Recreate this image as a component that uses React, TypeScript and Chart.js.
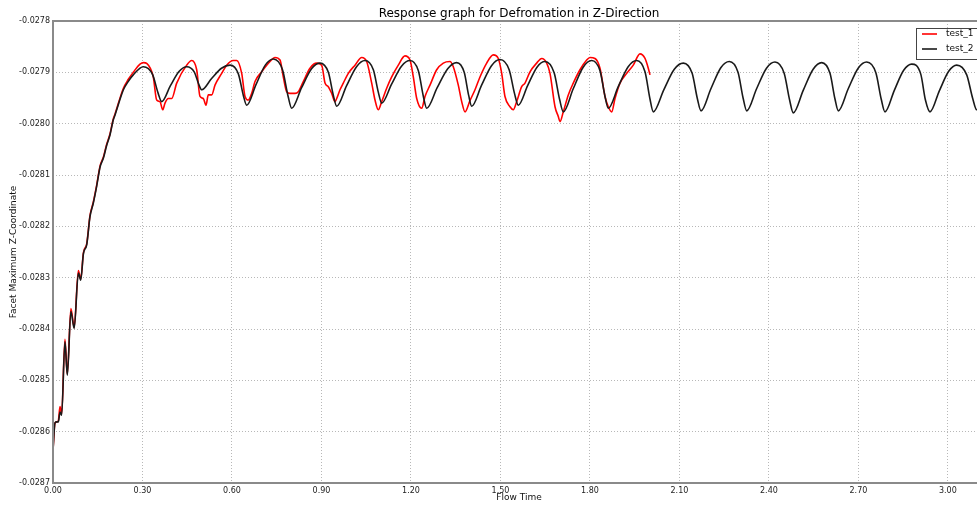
import React, { useEffect, useRef } from "react";
import { Chart, registerables } from "chart.js";

Chart.register(...registerables);

const TITLE = "Response graph for Defromation in Z-Direction";
const X_LABEL = "Flow Time";
const Y_LABEL = "Facet Maximum Z-Coordinate";
const SERIES_NAMES = ["test_1", "test_2"];

const xTicks = [0, 0.3, 0.6, 0.9, 1.2, 1.5, 1.8, 2.1, 2.4, 2.7, 3.0];
const yTicks = [-0.0287, -0.0286, -0.0285, -0.0284, -0.0283, -0.0282, -0.0281, -0.028, -0.0279, -0.0278];
const X_MIN = 0;
const X_MAX = 3.1244;
const Y_MIN = -0.0287;
const Y_MAX = -0.0278;

// test_2 (black)
const test2Time = [
  0.0, 0.0067, 0.0124, 0.0178, 0.0235, 0.029, 0.04, 0.048, 0.06, 0.071,
  0.085, 0.093, 0.102, 0.113, 0.124, 0.135, 0.146, 0.158, 0.169, 0.18,
  0.191, 0.202, 0.208, 0.236, 0.252, 0.269,
  0.3027, 0.3336, 0.3521, 0.3644, 0.3937, 0.4231, 0.4482, 0.4734, 0.4884, 0.4985,
  0.5317, 0.5649, 0.5934, 0.6214, 0.6381, 0.6493, 0.6805, 0.7117, 0.7385, 0.7694,
  0.7879, 0.8002, 0.8334, 0.8666, 0.8951, 0.9231, 0.9399, 0.9511, 0.9843, 1.0175,
  1.0459, 1.0739, 1.0907, 1.1019, 1.1351, 1.1683, 1.1968, 1.2248, 1.2416, 1.2528,
  1.288, 1.3232, 1.3533, 1.3785, 1.3935, 1.4036, 1.4368, 1.47, 1.4985, 1.5292,
  1.5475, 1.5598, 1.5911, 1.6225, 1.6493, 1.68, 1.6984, 1.7107, 1.744, 1.7773,
  1.8059, 1.8338, 1.8505, 1.8616, 1.8949, 1.9282, 1.9568, 1.9846, 2.0013, 2.0124,
  2.0476, 2.0828, 2.113, 2.1427, 2.1604, 2.1723, 2.2055, 2.2387, 2.2672, 2.2964,
  2.3138, 2.3255, 2.3587, 2.3919, 2.4204, 2.4511, 2.4694, 2.4817, 2.515, 2.5483,
  2.5769, 2.6048, 2.6215, 2.6326, 2.6659, 2.6992, 2.7278, 2.7585, 2.7768, 2.7891,
  2.8204, 2.8518, 2.8786, 2.9093, 2.9247, 2.94, 2.9713, 3.0027, 3.0295, 3.0631,
  3.0832, 3.0966, 3.1244,
];
const test2Value = [
  -0.028636, -0.028583, -0.028581, -0.028581, -0.028562, -0.028568, -0.028425, -0.02849, -0.028366, -0.028399,
  -0.028291, -0.028305, -0.028253, -0.028236, -0.028181, -0.028155, -0.028123, -0.028084, -0.028067, -0.028042,
  -0.028022, -0.027993, -0.027983, -0.027934, -0.027918, -0.027905,
  -0.027889, -0.027904, -0.02794, -0.027957, -0.027926, -0.027898, -0.027889, -0.027899, -0.027923, -0.027934,
  -0.027912, -0.027892, -0.027886, -0.027903, -0.027945, -0.027964, -0.027924, -0.027886, -0.027874, -0.027895,
  -0.027946, -0.02797, -0.02793, -0.027893, -0.027882, -0.0279, -0.027945, -0.027966, -0.027926, -0.027889,
  -0.027877, -0.027895, -0.027939, -0.02796, -0.027923, -0.027888, -0.027877, -0.027897, -0.027947, -0.02797,
  -0.02793, -0.027893, -0.027881, -0.0279, -0.027945, -0.027966, -0.027925, -0.027887, -0.027875, -0.027895,
  -0.027942, -0.027964, -0.027926, -0.02789, -0.027879, -0.027901, -0.027953, -0.027977, -0.027932, -0.02789,
  -0.027877, -0.027897, -0.027947, -0.02797, -0.027928, -0.027889, -0.027877, -0.027899, -0.027952, -0.027977,
  -0.027934, -0.027894, -0.027882, -0.027902, -0.027952, -0.027975, -0.027932, -0.027891, -0.027879, -0.0279,
  -0.027951, -0.027975, -0.027932, -0.027892, -0.02788, -0.027902, -0.027954, -0.027979, -0.027935, -0.027894,
  -0.027881, -0.027902, -0.027952, -0.027975, -0.027932, -0.027892, -0.02788, -0.027901, -0.027953, -0.027977,
  -0.027935, -0.027896, -0.027884, -0.027904, -0.027954, -0.027977, -0.027936, -0.027898, -0.027886, -0.027905,
  -0.027951, -0.027973, -0.027946,
];

// test_1 (red)
const test1Time = [
  0.0, 0.0067, 0.0124, 0.0178, 0.0235, 0.029, 0.04, 0.048, 0.06, 0.071,
  0.085, 0.093, 0.102, 0.113, 0.124, 0.135, 0.146, 0.158, 0.169, 0.18,
  0.191, 0.202, 0.208, 0.236, 0.252, 0.269, 0.2917, 0.3035, 0.3151, 0.3362,
  0.3476, 0.3587, 0.3677, 0.3755, 0.3865, 0.3979, 0.4147, 0.4482, 0.465, 0.4817,
  0.4928, 0.5039, 0.5129, 0.5206, 0.532, 0.5431, 0.5655, 0.5823, 0.6044, 0.6158,
  0.6326, 0.6437, 0.6547, 0.6661, 0.6772, 0.6996, 0.7275, 0.7442, 0.761, 0.772,
  0.7834, 0.7945, 0.8113, 0.8223, 0.8391, 0.8615, 0.884, 0.9008, 0.9119, 0.9229,
  0.9343, 0.9454, 0.9511, 0.9621, 0.9732, 0.9899, 1.0124, 1.0349, 1.0516, 1.0684,
  1.0795, 1.0905, 1.1019, 1.1186, 1.1354, 1.1576, 1.18, 1.1968, 1.2079, 1.2193,
  1.236, 1.2471, 1.2638, 1.2863, 1.3084, 1.3309, 1.3419, 1.3587, 1.3701, 1.3812,
  1.3979, 1.4147, 1.4314, 1.4539, 1.476, 1.4928, 1.5042, 1.5152, 1.532, 1.5431,
  1.5545, 1.5712, 1.5823, 1.5991, 1.6215, 1.6383, 1.6551, 1.6661, 1.6829, 1.6939,
  1.6996, 1.7107, 1.7275, 1.7442, 1.7667, 1.7891, 1.8002, 1.817, 1.8337, 1.8505,
  1.8616, 1.873, 1.884, 1.9008, 1.9232, 1.9453, 1.9678, 1.9846, 1.9956, 2.0013,
];
const test1Value = [
  -0.028636, -0.028583, -0.028581, -0.028579, -0.028551, -0.028566, -0.02842, -0.028488, -0.02836, -0.028397,
  -0.028286, -0.028303, -0.028251, -0.028234, -0.028179, -0.028153, -0.028121, -0.028082, -0.028065, -0.02804,
  -0.02802, -0.027991, -0.027981, -0.027931, -0.027914, -0.0279, -0.027884, -0.027881, -0.027883, -0.027909,
  -0.027954, -0.027957, -0.027973, -0.02796, -0.027951, -0.027951, -0.027921, -0.027886, -0.027877, -0.027895,
  -0.027947, -0.027951, -0.027964, -0.027944, -0.027944, -0.027925, -0.027902, -0.027886, -0.027877, -0.027877,
  -0.027902, -0.027947, -0.027954, -0.027941, -0.027918, -0.027899, -0.027879, -0.027871, -0.027876, -0.027909,
  -0.027938, -0.027941, -0.027941, -0.027938, -0.027918, -0.027892, -0.027882, -0.027886, -0.027921, -0.027928,
  -0.027941, -0.027957, -0.027951, -0.027934, -0.027921, -0.027902, -0.027886, -0.027871, -0.027879, -0.027921,
  -0.027954, -0.027973, -0.027957, -0.027931, -0.027909, -0.027886, -0.027868, -0.027876, -0.027909, -0.027951,
  -0.02797, -0.027947, -0.027925, -0.027895, -0.027882, -0.027879, -0.027889, -0.027925, -0.027957, -0.027977,
  -0.027955, -0.027934, -0.027909, -0.027882, -0.027866, -0.027873, -0.027902, -0.027947, -0.027967, -0.027973,
  -0.027957, -0.027928, -0.027921, -0.027899, -0.027882, -0.027873, -0.027882, -0.027902, -0.027967, -0.027986,
  -0.027996, -0.027977, -0.027944, -0.027921, -0.027895, -0.027876, -0.027871, -0.027873, -0.027892, -0.027947,
  -0.027967, -0.027977, -0.027951, -0.027921, -0.027902, -0.027886, -0.027864, -0.027873, -0.027892, -0.027905,
];

const RED = "#ff0000";
const BLACK = "#1a1a1a";
const FONT = "DejaVu Sans";

const decorPlugin = {
  id: "decor",
  afterDatasetsDraw(chart: any) {
    const { ctx, chartArea } = chart;
    const { left, right, top, bottom } = chartArea;
    ctx.save();
    // spines
    ctx.strokeStyle = "#8a8a8a";
    ctx.lineWidth = 2;
    ctx.beginPath();
    ctx.moveTo(left, top);
    ctx.lineTo(right + 2, top);
    ctx.moveTo(left, top - 1);
    ctx.lineTo(left, bottom + 1);
    ctx.moveTo(left, bottom);
    ctx.lineTo(right + 2, bottom);
    ctx.stroke();

    // title
    ctx.fillStyle = "#000";
    ctx.font = `12px "${FONT}"`;
    ctx.textAlign = "center";
    ctx.textBaseline = "middle";
    ctx.fillText(TITLE, (left + right) / 2, 14);

    // axis labels
    ctx.font = `9px "${FONT}"`;
    ctx.fillStyle = "#111";
    ctx.fillText(X_LABEL, (left + right) / 2, 498);
    ctx.save();
    ctx.translate(14, (top + bottom) / 2);
    ctx.rotate(-Math.PI / 2);
    ctx.fillText(Y_LABEL, 0, 0);
    ctx.restore();

    // legend
    const bx = right - 69;
    const by = top + 7;
    ctx.fillStyle = "#fff";
    ctx.fillRect(bx, by, 65, 31);
    ctx.strokeStyle = "#444";
    ctx.lineWidth = 1;
    ctx.strokeRect(bx + 0.5, by + 0.5, 65, 31);
    const colors = [RED, BLACK];
    SERIES_NAMES.forEach((name, i) => {
      const ly = by + 6 + i * 15;
      ctx.strokeStyle = colors[i];
      ctx.lineWidth = 1.6;
      ctx.beginPath();
      ctx.moveTo(bx + 6, ly);
      ctx.lineTo(bx + 21, ly);
      ctx.stroke();
      ctx.fillStyle = "#111";
      ctx.textAlign = "left";
      ctx.textBaseline = "middle";
      ctx.font = `9px "${FONT}"`;
      ctx.fillText(name, bx + 30, ly);
    });
    ctx.restore();
  },
};

export default function App() {
  const ref = useRef<HTMLCanvasElement | null>(null);

  useEffect(() => {
    document.body.style.overflow = "hidden";
    const canvas = ref.current;
    if (!canvas) return;
    const chart = new Chart(canvas, {
      type: "line",
      data: {
        datasets: [
          {
            label: SERIES_NAMES[0],
            data: test1Time.map((t, i) => ({ x: t, y: test1Value[i] })),
            borderColor: RED,
            borderWidth: 1.6,
            pointRadius: 0,
            fill: false,
            cubicInterpolationMode: "monotone",
            order: 1,
          },
          {
            label: SERIES_NAMES[1],
            data: test2Time.map((t, i) => ({ x: t, y: test2Value[i] })),
            borderColor: BLACK,
            borderWidth: 1.6,
            pointRadius: 0,
            fill: false,
            cubicInterpolationMode: "monotone",
            order: 0,
          },
        ],
      },
      options: {
        animation: false,
        responsive: false,
        maintainAspectRatio: false,
        layout: { padding: { top: 21, right: 15, bottom: 0, left: 0 } },
        plugins: {
          legend: { display: false },
          title: { display: false },
          tooltip: { enabled: false },
        },
        scales: {
          x: {
            type: "linear",
            min: X_MIN,
            max: X_MAX,
            afterBuildTicks: (s: any) => {
              s.ticks = xTicks.map((v) => ({ value: v }));
            },
            afterFit: (s: any) => {
              s.height = 23;
            },
            ticks: {
              callback: (v: any) => Number(v).toFixed(2),
              font: { family: FONT, size: 8 },
              color: "#222",
              maxRotation: 0,
              autoSkip: false,
              padding: 3,
            },
            grid: { color: "#b8b8b8", lineWidth: 1, drawTicks: false },
            border: { display: false, dash: [1, 2] },
          },
          y: {
            type: "linear",
            min: Y_MIN,
            max: Y_MAX,
            afterBuildTicks: (s: any) => {
              s.ticks = yTicks.map((v) => ({ value: v }));
            },
            afterFit: (s: any) => {
              s.width = 53;
            },
            ticks: {
              callback: (v: any) => Number(v).toFixed(4),
              font: { family: FONT, size: 8 },
              color: "#222",
              autoSkip: false,
              padding: 3,
            },
            grid: { color: "#b8b8b8", lineWidth: 1, drawTicks: false },
            border: { display: false, dash: [1, 2] },
          },
        },
      },
      plugins: [decorPlugin],
    });
    return () => chart.destroy();
  }, []);

  return (
    <div style={{ position: "fixed", left: 0, top: 0, width: 1000, height: 506, overflow: "hidden", background: "#fff" }}>
      <canvas ref={ref} width={1000} height={506} style={{ display: "block" }} />
    </div>
  );
}
